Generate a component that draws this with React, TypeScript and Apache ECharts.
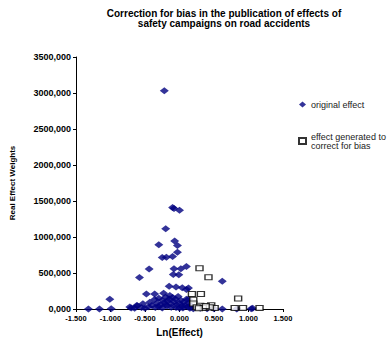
import React, { useEffect, useRef } from "react";
import * as echarts from "echarts";

const titleLines = [
  "Correction for bias in the publication of effects of",
  "safety campaigns on road accidents",
];
const xAxisName = "Ln(Effect)";
const yAxisName = "Real Effect Weights";
const seriesNames = ["original effect", "effect generated to\ncorrect for bias"];

const originalEffect: [number, number][] = [
  [-0.22, 3030],
  [-0.1, 1410], [-0.08, 1397], [0.0, 1370],
  [-0.2, 1115],
  [-0.07, 945], [-0.3, 893], [-0.03, 882], [-0.03, 789],
  [-0.25, 715], [-0.19, 719], [-0.1, 729],
  [-0.44, 556],
  [-0.08, 560], [0.02, 560], [0.1, 590],
  [-0.09, 480], [-0.01, 475],
  [-0.58, 436],
  [0.62, 384],
  [-0.15, 315], [-0.05, 305], [0.04, 296], [0.13, 290],
  [0.1, 271],
  [-0.48, 210], [-0.36, 210], [-0.23, 220],
  [-1.01, 136],
  [-1.32, 0], [-1.16, 0], [-0.99, 5], [-0.7, 14], [-0.61, 45],
  [-0.53, 72], [-0.43, 95], [-0.36, 131], [-0.3, 150], [-0.25, 120], [-0.2, 165],
  [-0.14, 186], [-0.1, 160], [-0.06, 140], [-0.02, 175], [0.02, 120], [0.06, 95],
  [0.1, 135], [0.13, 80], [-0.45, 30], [-0.4, 50], [-0.33, 80], [-0.28, 60],
  [-0.22, 90], [-0.17, 110], [-0.12, 70], [-0.08, 100], [-0.04, 60], [0.0, 80],
  [0.04, 40], [0.08, 50], [0.12, 30], [-0.5, 10], [-0.35, 20], [-0.3, 30],
  [-0.25, 15], [-0.18, 40], [-0.12, 25], [-0.05, 20], [0.0, 10], [0.05, 15],
  [0.15, 10], [0.2, 5], [0.3, 10], [-0.65, 10], [-0.72, 27], [-0.62, 50],
  [-0.55, 20], [-0.15, 140], [-0.2, 60], [0.13, 136], [0.15, 45],
  [0.62, 0], [0.83, 0], [1.04, 5], [1.06, 10], [0.4, 5], [0.5, 5],
];

const generatedEffect: [number, number][] = [
  [0.29, 566], [0.42, 440], [0.18, 208], [0.31, 208], [0.85, 145],
  [0.2, 130], [0.2, 75], [0.3, 45], [0.46, 52], [0.36, 14], [0.25, 23],
  [0.51, 14], [0.44, 25], [0.8, 15], [0.92, 15], [1.16, 15], [0.38, 40], [0.28, 10],
];

const xTicks = [-1.5, -1.0, -0.5, 0.0, 0.5, 1.0, 1.5];
const yTicks = [0, 500, 1000, 1500, 2000, 2500, 3000, 3500];

const FONT = "'Liberation Sans', Arial, sans-serif";

export default function App() {
  const ref = useRef<HTMLDivElement>(null);
  useEffect(() => {
    if (!ref.current) return;
    const chart = echarts.init(ref.current, null, { renderer: "svg" });
    chart.setOption({
      animation: false,
      backgroundColor: "#ffffff",
      title: {
        text: titleLines.join("\n"),
        left: 219,
        top: 3,
        textAlign: "center",
        textStyle: {
          fontFamily: FONT,
          fontSize: 10,
          fontWeight: "bold",
          color: "#000",
          lineHeight: 10,
        },
      },
      legend: {
        orient: "vertical",
        left: 293,
        top: 95,
        itemGap: 23,
        itemWidth: 7,
        itemHeight: 6,
        textStyle: { fontFamily: FONT, fontSize: 9, color: "#222", lineHeight: 9 },
        data: [
          { name: seriesNames[0], icon: "diamond" },
          { name: seriesNames[1], icon: "rect" },
        ],
      },
      grid: { left: 75, right: 104, top: 57, bottom: 25 },
      xAxis: {
        type: "value",
        min: xTicks[0],
        max: xTicks[xTicks.length - 1],
        interval: 0.5,
        name: xAxisName,
        nameLocation: "middle",
        nameGap: 18,
        nameTextStyle: { fontFamily: FONT, fontSize: 10, fontWeight: "bold", color: "#000" },
        axisLine: { onZero: false, lineStyle: { color: "#000", width: 1 } },
        axisTick: { show: true, length: 3, lineStyle: { color: "#000" } },
        splitLine: { show: false },
        axisLabel: {
          fontFamily: FONT,
          fontSize: 7.5,
          fontWeight: "bold",
          color: "#000",
          margin: 5,
          formatter: (v: number) => v.toFixed(3),
        },
      },
      yAxis: {
        type: "value",
        min: yTicks[0],
        max: yTicks[yTicks.length - 1],
        interval: 500,
        name: yAxisName,
        nameLocation: "middle",
        nameGap: 60,
        nameRotate: 90,
        nameTextStyle: { fontFamily: FONT, fontSize: 8, fontWeight: "bold", color: "#000" },
        axisLine: { show: true, onZero: false, lineStyle: { color: "#000", width: 1 } },
        axisTick: { show: true, length: 3, lineStyle: { color: "#000" } },
        splitLine: { show: false },
        axisLabel: {
          fontFamily: FONT,
          fontSize: 9,
          fontWeight: "bold",
          color: "#000",
          margin: 5,
          formatter: (v: number) => `${v},000`,
        },
      },
      series: [
        {
          name: seriesNames[0],
          type: "scatter",
          symbol: "diamond",
          symbolSize: [9, 7],
          itemStyle: { color: "#000080" },
          data: originalEffect,
          z: 3,
        },
        {
          name: seriesNames[1],
          type: "scatter",
          symbol: "rect",
          symbolSize: [7, 5],
          itemStyle: { color: "#ffffff", borderColor: "#000", borderWidth: 1.2 },
          data: generatedEffect,
          z: 4,
        },
      ],
    });
    return () => chart.dispose();
  }, []);
  return (
    <div
      ref={ref}
      style={{ position: "absolute", left: 0, top: 0, width: 387, height: 342 }}
    />
  );
}
